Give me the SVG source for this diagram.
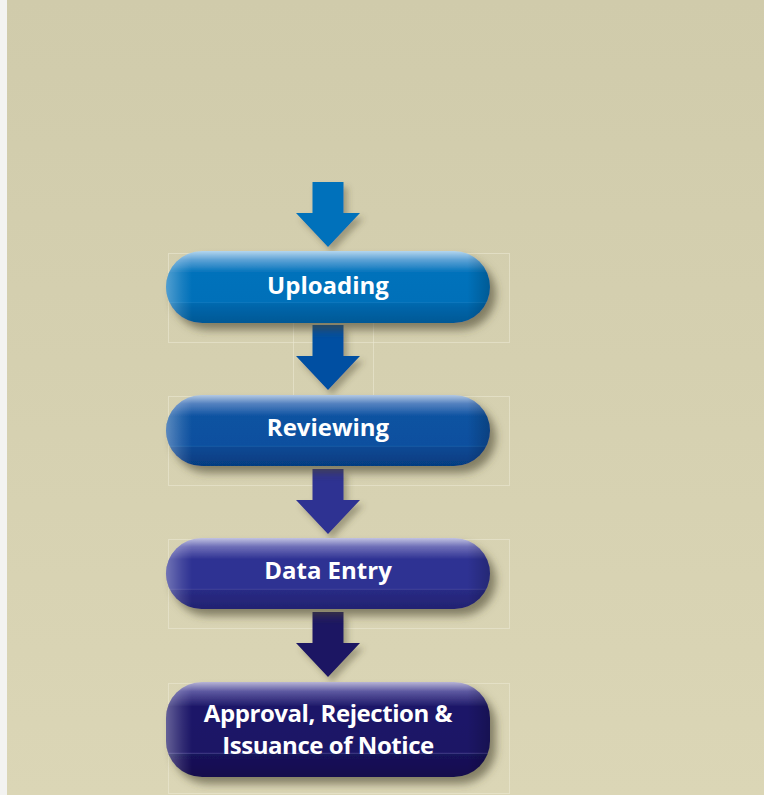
<svg xmlns="http://www.w3.org/2000/svg" width="764" height="795" viewBox="0 0 764 795">
<defs>
  <linearGradient id="bg" x1="0" y1="0" x2="0" y2="1">
    <stop offset="0" stop-color="#d0cbab"/>
    <stop offset="1" stop-color="#dbd6b6"/>
  </linearGradient>
  <filter id="sh" x="-10%" y="-20%" width="130%" height="160%">
    <feGaussianBlur in="SourceAlpha" stdDeviation="4"/>
    <feOffset dx="6" dy="7" result="b"/>
    <feFlood flood-color="#4a4630" flood-opacity="0.6"/>
    <feComposite in2="b" operator="in"/>
    <feMerge><feMergeNode/><feMergeNode in="SourceGraphic"/></feMerge>
  </filter>
  <filter id="ash" x="-30%" y="-20%" width="160%" height="150%">
    <feGaussianBlur in="SourceAlpha" stdDeviation="3"/>
    <feOffset dx="4" dy="5" result="b"/>
    <feFlood flood-color="#4a4630" flood-opacity="0.4"/>
    <feComposite in2="b" operator="in"/>
    <feMerge><feMergeNode/><feMergeNode in="SourceGraphic"/></feMerge>
  </filter>
  <linearGradient id="g1" x1="0" y1="0" x2="0" y2="1">
    <stop offset="0" stop-color="#b4d6ee"/>
    <stop offset="0.12" stop-color="#5fa3d6"/>
    <stop offset="0.3" stop-color="#0072bb"/>
    <stop offset="0.71" stop-color="#0070b9"/>
    <stop offset="0.72" stop-color="#1d7cbf"/>
    <stop offset="0.73" stop-color="#0068ae"/>
    <stop offset="1" stop-color="#005895"/>
  </linearGradient>
  <linearGradient id="g2" x1="0" y1="0" x2="0" y2="1">
    <stop offset="0" stop-color="#b3c9e3"/>
    <stop offset="0.12" stop-color="#5582c0"/>
    <stop offset="0.3" stop-color="#0d52a1"/>
    <stop offset="0.71" stop-color="#0c509f"/>
    <stop offset="0.72" stop-color="#2a66ae"/>
    <stop offset="0.73" stop-color="#094894"/>
    <stop offset="1" stop-color="#063d80"/>
  </linearGradient>
  <linearGradient id="g3" x1="0" y1="0" x2="0" y2="1">
    <stop offset="0" stop-color="#c2c3e2"/>
    <stop offset="0.12" stop-color="#6f70b8"/>
    <stop offset="0.3" stop-color="#2f3193"/>
    <stop offset="0.71" stop-color="#2e3092"/>
    <stop offset="0.72" stop-color="#5052a6"/>
    <stop offset="0.73" stop-color="#292a85"/>
    <stop offset="1" stop-color="#222371"/>
  </linearGradient>
  <linearGradient id="g4" x1="0" y1="0" x2="0" y2="1">
    <stop offset="0" stop-color="#b7b4d6"/>
    <stop offset="0.1" stop-color="#5c58a0"/>
    <stop offset="0.26" stop-color="#1e1768"/>
    <stop offset="0.74" stop-color="#1c1565"/>
    <stop offset="0.75" stop-color="#45408a"/>
    <stop offset="0.76" stop-color="#19125b"/>
    <stop offset="1" stop-color="#140e4c"/>
  </linearGradient>
  <linearGradient id="edge" x1="0" y1="0" x2="1" y2="0">
    <stop offset="0" stop-color="#ffffff" stop-opacity="0.32"/>
    <stop offset="0.05" stop-color="#ffffff" stop-opacity="0.1"/>
    <stop offset="0.08" stop-color="#ffffff" stop-opacity="0"/>
    <stop offset="0.93" stop-color="#000000" stop-opacity="0"/>
    <stop offset="1" stop-color="#000000" stop-opacity="0.2"/>
  </linearGradient>
  <path id="arrow" d="M-15.5,0 H15.5 V31 H32 L0,65 L-32,31 H-15.5 Z"/>
</defs>
<style>
  .lbl { font-family: "Open Sans", "Noto Sans", "Liberation Sans", sans-serif; font-weight: 700; font-size: 24px; fill: #ffffff; text-anchor: middle; }
  .tight { letter-spacing: -0.45px; }
  .guide { fill: none; stroke: #ebe7d2; stroke-width: 1; opacity: 0.6; }
</style>

<rect x="0" y="0" width="764" height="795" fill="url(#bg)"/>
<rect x="0" y="0" width="7" height="795" fill="#f3f3f1"/>

<g id="guides">
  <rect class="guide" x="168.5" y="253.5" width="341" height="89"/>
  <line class="guide" x1="293.5" y1="323" x2="293.5" y2="396"/>
  <line class="guide" x1="373.5" y1="323" x2="373.5" y2="396"/>
  <rect class="guide" x="168.5" y="396.5" width="341" height="89"/>
  <rect class="guide" x="168.5" y="539.5" width="341" height="89"/>
  <rect class="guide" x="168.5" y="683.5" width="341" height="110"/>
</g>

<g id="connectors">
  <use href="#arrow" x="328" y="182" fill="#0071bb" filter="url(#ash)"/>
  <use href="#arrow" x="328" y="325" fill="#0050a2" filter="url(#ash)"/>
  <use href="#arrow" x="328" y="469" fill="#2e3192" filter="url(#ash)"/>
  <use href="#arrow" x="328" y="612" fill="#1b1464" filter="url(#ash)"/>
</g>

<g id="node-uploading">
  <rect x="166" y="251" width="324" height="72" rx="36" fill="url(#g1)" filter="url(#sh)"/>
  <rect x="166" y="251" width="324" height="72" rx="36" fill="url(#edge)"/>
  <text class="lbl" x="328" y="294">Uploading</text>
</g>

<g id="node-reviewing">
  <rect x="166" y="395" width="324" height="71" rx="35.5" fill="url(#g2)" filter="url(#sh)"/>
  <rect x="166" y="395" width="324" height="71" rx="35.5" fill="url(#edge)"/>
  <text class="lbl" x="328" y="436">Reviewing</text>
</g>

<g id="node-data-entry">
  <rect x="166" y="538" width="324" height="71" rx="35.5" fill="url(#g3)" filter="url(#sh)"/>
  <rect x="166" y="538" width="324" height="71" rx="35.5" fill="url(#edge)"/>
  <text class="lbl" x="328" y="579">Data Entry</text>
</g>

<g id="node-approval">
  <rect x="166" y="682" width="324" height="95" rx="36" fill="url(#g4)" filter="url(#sh)"/>
  <rect x="166" y="682" width="324" height="95" rx="36" fill="url(#edge)"/>
  <text class="lbl tight" x="328" y="722">Approval, Rejection &amp;</text>
  <text class="lbl tight" x="328" y="754">Issuance of Notice</text>
</g>
</svg>
